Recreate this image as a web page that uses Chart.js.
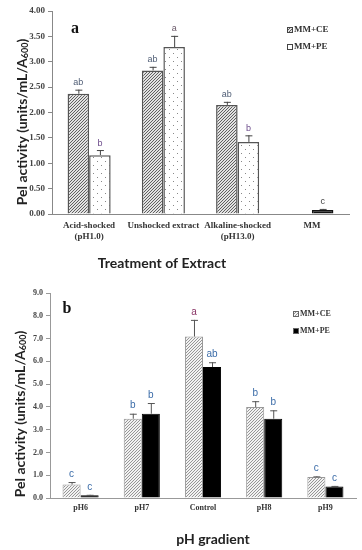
<!DOCTYPE html>
<html>
<head>
<meta charset="utf-8">
<title>Pel activity</title>
<script src="https://cdn.jsdelivr.net/npm/chart.js@4.4.1/dist/chart.umd.min.js"></script>
<style>
    body { margin: 0; background: #fff; }
    canvas { display: block; }
</style>
</head>
<body>
<canvas id="chartA" width="362" height="275"></canvas>
<canvas id="chartB" width="362" height="275"></canvas>
<script>
/*////////////////////////////// data //////////////////////////////////*/

const labelsA = [['Acid-shocked', '(pH1.0)'], 'Unshocked extract', ['Alkaline-shocked', '(pH13.0)'], 'MM'];
const ceA = [2.37, 2.83, 2.15, null];
const ceErrA = [0.08, 0.07, 0.06, null];
const peA = [1.16, 3.29, 1.42, 0.08];
const peErrA = [0.10, 0.22, 0.13, 0.02];
const ceLettersA = ['ab', 'ab', 'ab', ''];
const peLettersA = ['b', 'a', 'b', 'c'];
const ticksA = [0, 0.5, 1, 1.5, 2, 2.5, 3, 3.5, 4];

const labelsB = ['pH6', 'pH7', 'Control', 'pH8', 'pH9'];
const ceB = [0.59, 3.48, 7.09, 3.99, 0.92];
const ceErrB = [0.11, 0.22, 0.73, 0.26, 0.03];
const peB = [0.12, 3.70, 5.75, 3.48, 0.51];
const peErrB = [0.02, 0.47, 0.21, 0.37, 0.02];
const ceLettersB = ['c', 'b', 'a', 'b', 'c'];
const peLettersB = ['c', 'b', 'ab', 'b', 'c'];
const ticksB = [0, 1, 2, 3, 4, 5, 6, 7, 8, 9];

const seriesNames = ['MM+CE', 'MM+PE'];

/*////////////////////////////// patterns //////////////////////////////////*/

function hatch(bg, line) {
    const c = document.createElement('canvas');
    c.width = 3; c.height = 3;
    const g = c.getContext('2d');
    g.fillStyle = bg;
    g.fillRect(0, 0, 3, 3);
    g.strokeStyle = line;
    g.lineWidth = 1;
    g.beginPath();
    g.moveTo(0, 3); g.lineTo(3, 0);
    g.moveTo(-1, 1); g.lineTo(1, -1);
    g.moveTo(2, 4); g.lineTo(4, 2);
    g.stroke();
    return g.createPattern(c, 'repeat');
}

function dots(bg, dot) {
    const c = document.createElement('canvas');
    c.width = 8; c.height = 8;
    const g = c.getContext('2d');
    g.fillStyle = bg;
    g.fillRect(0, 0, 8, 8);
    g.fillStyle = dot;
    g.fillRect(1, 1, 1, 1);
    g.fillRect(5, 5, 1, 1);
    return g.createPattern(c, 'repeat');
}

const hatchA = hatch('#e2e2e2', '#606060');
const dotsA = dots('#fff', '#888');
const hatchB = hatch('#f2f2f2', '#969696');

/*////////////////////////////// plugins //////////////////////////////////*/

const errorBars = {
    id: 'errorBars',
    afterDatasetsDraw(chart, args, opts) {
        const ctx = chart.ctx;
        const y = chart.scales.y;
        chart.data.datasets.forEach((ds, i) => {
            chart.getDatasetMeta(i).data.forEach((bar, j) => {
                const v = ds.data[j];
                if (v == null) return;
                const top = y.getPixelForValue(v + (ds.errors[j] || 0));
                ctx.save();
                ctx.strokeStyle = opts.color;
                ctx.lineWidth = 1;
                ctx.beginPath();
                ctx.moveTo(bar.x + 0.5, bar.y);
                ctx.lineTo(bar.x + 0.5, top);
                ctx.moveTo(bar.x - 3, top + 0.5);
                ctx.lineTo(bar.x + 4, top + 0.5);
                ctx.stroke();
                ctx.font = opts.font;
                ctx.textAlign = 'center';
                ctx.textBaseline = 'middle';
                ctx.fillStyle = ds.letterColors[j];
                ctx.fillText(ds.letters[j], bar.x, top - opts.gap);
                ctx.restore();
            });
        });
    }
};

const extras = {
    id: 'extras',
    afterDraw(chart, args, o) {
        const ctx = chart.ctx;
        ctx.save();
        ctx.fillStyle = '#111';
        ctx.textBaseline = 'middle';

        // panel letter
        ctx.font = 'bold 16px "Liberation Serif"';
        ctx.textAlign = 'center';
        ctx.fillText(o.panel, o.panelX, o.panelY);

        // x title
        ctx.fillStyle = '#222';
        ctx.font = 'bold 14px Lato';
        ctx.fillText(o.xTitle, o.xTitleX, o.xTitleY);

        // y title with subscript
        ctx.save();
        ctx.translate(o.yTitleX, o.yTitleY);
        ctx.rotate(-Math.PI / 2);
        const main = 'Pel activity (units/mL/A';
        ctx.font = 'bold 14px Lato';
        const w1 = ctx.measureText(main).width;
        ctx.font = 'bold 9px Lato';
        const w2 = ctx.measureText('600').width;
        ctx.font = 'bold 14px Lato';
        const w3 = ctx.measureText(')').width;
        let x = -(w1 + w2 + w3) / 2;
        ctx.textAlign = 'left';
        ctx.fillText(main, x, 0);
        x += w1;
        ctx.font = 'bold 9px Lato';
        ctx.fillText('600', x, 3);
        x += w2;
        ctx.font = 'bold 14px Lato';
        ctx.fillText(')', x, 0);
        ctx.restore();

        // legend
        chart.data.datasets.forEach((ds, i) => {
            const ly = o.legendY + i * o.legendGap;
            const bg = Array.isArray(ds.backgroundColor) ? ds.backgroundColor[0] : ds.backgroundColor;
            ctx.fillStyle = bg;
            ctx.fillRect(o.legendX, ly - 3, 6, 6);
            ctx.strokeStyle = o.legendBorder;
            ctx.lineWidth = 1;
            ctx.strokeRect(o.legendX + 0.5, ly - 2.5, 5, 5);
            ctx.fillStyle = '#333';
            ctx.font = o.legendFont;
            ctx.textAlign = 'left';
            ctx.fillText(ds.label, o.legendX + 7, ly);
        });
        ctx.restore();
    }
};

/*////////////////////////////// chart a //////////////////////////////////*/

new Chart(document.getElementById('chartA'), {
    type: 'bar',
    data: {
        labels: labelsA,
        datasets: [{
            label: seriesNames[0],
            data: ceA,
            errors: ceErrA,
            letters: ceLettersA,
            letterColors: ['#4f5d75', '#4f5d75', '#4f5d75', '#444'],
            backgroundColor: hatchA,
            borderColor: '#555',
            borderWidth: 1.5
        }, {
            label: seriesNames[1],
            data: peA,
            errors: peErrA,
            letters: peLettersA,
            letterColors: ['#6b4a8a', '#6b5a6a', '#6b4a8a', '#444'],
            backgroundColor: [dotsA, dotsA, dotsA, '#111'],
            borderColor: ['#555', '#555', '#555', '#111'],
            borderWidth: 1.5
        }]
    },
    options: {
        responsive: false,
        animation: false,
        categoryPercentage: 0.58,
        barPercentage: 1,
        layout: { padding: { top: 11, right: 13, left: 0, bottom: 0 } },
        scales: {
            x: {
                ticks: {
                    font: { family: 'Liberation Serif', size: 9, weight: 'bold' },
                    color: '#333',
                    padding: 6,
                    maxRotation: 0,
                    autoSkip: false
                },
                grid: { display: false, drawTicks: false },
                border: { color: '#888' },
                afterFit: s => { s.height = 61; }
            },
            y: {
                min: 0,
                max: 4,
                afterBuildTicks: s => { s.ticks = ticksA.map(v => ({ value: v })); },
                ticks: {
                    callback: v => v.toFixed(2),
                    font: { family: 'Liberation Serif', size: 9, weight: 'bold' },
                    color: '#444',
                    padding: 3
                },
                grid: { drawOnChartArea: false, tickLength: 4, color: '#888' },
                border: { color: '#888' },
                afterFit: s => { s.width = 52; }
            }
        },
        plugins: {
            legend: { display: false },
            tooltip: { enabled: false },
            errorBars: { color: '#444', font: '9px "Liberation Sans"', gap: 7 },
            extras: {
                panel: 'a', panelX: 75, panelY: 29,
                xTitle: 'Treatment of Extract', xTitleX: 162, xTitleY: 263,
                yTitleX: 22, yTitleY: 122,
                legendX: 287, legendY: 30, legendGap: 17,
                legendFont: 'bold 9px "Liberation Serif"', legendBorder: '#444'
            }
        }
    },
    plugins: [errorBars, extras]
});

/*////////////////////////////// chart b //////////////////////////////////*/

new Chart(document.getElementById('chartB'), {
    type: 'bar',
    data: {
        labels: labelsB,
        datasets: [{
            label: seriesNames[0],
            data: ceB,
            errors: ceErrB,
            letters: ceLettersB,
            letterColors: ['#3b6ca8', '#3b6ca8', '#8a3566', '#3b6ca8', '#3b6ca8'],
            backgroundColor: hatchB,
            borderColor: '#999',
            borderWidth: 1
        }, {
            label: seriesNames[1],
            data: peB,
            errors: peErrB,
            letters: peLettersB,
            letterColors: ['#3b6ca8', '#3b6ca8', '#3b6ca8', '#3b6ca8', '#3b6ca8'],
            backgroundColor: '#000',
            borderColor: '#000',
            borderWidth: 1
        }]
    },
    options: {
        responsive: false,
        animation: false,
        categoryPercentage: 0.59,
        barPercentage: 1,
        layout: { padding: { top: 18, right: 6, left: 0, bottom: 0 } },
        scales: {
            x: {
                ticks: {
                    font: { family: 'Liberation Serif', size: 8, weight: 'bold' },
                    color: '#333',
                    padding: 5,
                    maxRotation: 0,
                    autoSkip: false
                },
                grid: { display: false, drawTicks: false },
                border: { color: '#999' },
                afterFit: s => { s.height = 52; }
            },
            y: {
                min: 0,
                max: 9,
                afterBuildTicks: s => { s.ticks = ticksB.map(v => ({ value: v })); },
                ticks: {
                    callback: v => v.toFixed(1),
                    font: { family: 'Liberation Serif', size: 8, weight: 'bold' },
                    color: '#444',
                    padding: 3
                },
                grid: { drawOnChartArea: false, tickLength: 4, color: '#999' },
                border: { color: '#999' },
                afterFit: s => { s.width = 50; }
            }
        },
        plugins: {
            legend: { display: false },
            tooltip: { enabled: false },
            errorBars: { color: '#555', font: '10px "Liberation Sans"', gap: 8 },
            extras: {
                panel: 'b', panelX: 67, panelY: 34,
                xTitle: 'pH gradient', xTitleX: 213, xTitleY: 264,
                yTitleX: 20, yTitleY: 139,
                legendX: 293, legendY: 39, legendGap: 17,
                legendFont: 'bold 8px "Liberation Serif"', legendBorder: '#666'
            }
        }
    },
    plugins: [errorBars, extras]
});
</script>
</body>
</html>
